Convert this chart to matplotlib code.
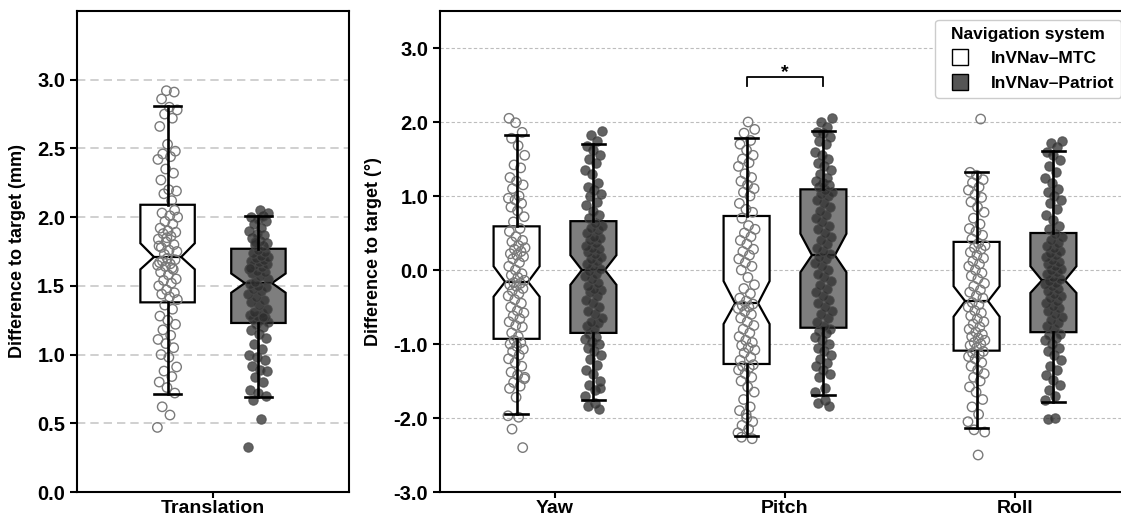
import numpy as np
import matplotlib
matplotlib.use("Agg")
import matplotlib.pyplot as plt
from matplotlib.lines import Line2D

plt.rcParams['font.family'] = ['Liberation Sans', 'DejaVu Sans']
plt.rcParams['font.weight'] = 'bold'
plt.rcParams['axes.unicode_minus'] = False

systems = ["InVNav\u2013MTC", "InVNav\u2013Patriot"]
rot_axes = ["Yaw", "Pitch", "Roll"]

# Translation error (mm), one value per trial
trans_mtc = [0.47, 0.56, 0.62,
             0.72, 0.76, 0.80, 0.84, 0.88, 0.91, 0.98, 1.00, 1.05, 1.08, 1.11, 1.14, 1.18, 1.22, 1.25, 1.28, 1.33, 1.36,
             1.40, 1.42, 1.44, 1.45, 1.47, 1.50, 1.52, 1.54, 1.55, 1.58, 1.60, 1.62, 1.64, 1.65, 1.66, 1.68, 1.69, 1.70, 1.67, 1.63,
             1.73, 1.75, 1.76, 1.78, 1.80, 1.82, 1.84, 1.86, 1.88, 1.89, 1.90, 1.92, 1.95, 1.97, 2.00, 2.01, 2.03, 2.05, 1.85, 1.79,
             2.12, 2.17, 2.19, 2.20, 2.27, 2.32, 2.35, 2.42, 2.44, 2.46, 2.48, 2.53, 2.66, 2.72, 2.75, 2.78, 2.80,
             2.86, 2.91, 2.92]
trans_patriot = [0.33, 0.53, 0.67,
                 0.70, 0.72, 0.74, 0.80, 0.84, 0.88, 0.89, 0.92, 0.96, 0.98, 1.00, 1.04, 1.08, 1.12, 1.15, 1.18, 1.20, 1.22,
                 1.24, 1.25, 1.26, 1.27, 1.28, 1.29, 1.30, 1.31, 1.33, 1.36, 1.38, 1.40, 1.42, 1.44, 1.46, 1.48, 1.49, 1.50, 1.51, 1.27,
                 1.53, 1.55, 1.57, 1.59, 1.60, 1.61, 1.62, 1.64, 1.65, 1.66, 1.67, 1.68, 1.69, 1.70, 1.71, 1.72, 1.74, 1.75, 1.76, 1.63,
                 1.79, 1.80, 1.81, 1.83, 1.85, 1.87, 1.88, 1.90, 1.92, 1.95, 1.97, 1.99, 2.00, 2.01, 1.82,
                 2.03, 2.05]

# Rotation error (deg)
yaw_mtc = [-1.97, -1.99, -2.15, -2.40,
           -1.72, -1.60, -1.57, -1.52, -1.47, -1.42, -1.38, -1.30, -1.25, -1.20, -1.15, -1.10, -1.07, -1.03, -1.00, -0.98, -0.95, -1.45,
           -0.90, -0.85, -0.77, -0.75, -0.70, -0.66, -0.62, -0.58, -0.55, -0.50, -0.45, -0.40, -0.35, -0.32, -0.28, -0.25, -0.22, -0.20, -0.18, -0.17,
           -0.14, -0.10, -0.07, -0.05, 0.00, 0.05, 0.10, 0.15, 0.18, 0.20, 0.22, 0.25, 0.28, 0.30, 0.33, 0.38, 0.40, 0.45, 0.52, 0.56,
           0.65, 0.72, 0.80, 0.85, 0.90, 0.95, 0.97, 1.00, 1.10, 1.15, 1.20, 1.25, 1.38, 1.42, 1.55, 1.68, 1.78,
           1.86, 1.99, 2.05]
yaw_patriot = [-1.70, -1.62, -1.55, -1.50, -1.40, -1.35, -1.28, -1.20, -1.15, -1.10, -1.05, -1.00, -0.97, -0.93, -0.90, -0.87, -1.60,
               -0.80, -0.76, -0.72, -0.70, -0.65, -0.60, -0.55, -0.50, -0.45, -0.40, -0.35, -0.30, -0.27, -0.25, -0.22, -0.18, -0.12, -0.08, -0.05, -0.02,
               0.02, 0.05, 0.08, 0.12, 0.15, 0.18, 0.22, 0.25, 0.28, 0.30, 0.33, 0.36, 0.40, 0.43, 0.45, 0.50, 0.54, 0.57, 0.60, 0.64,
               0.70, 0.75, 0.80, 0.88, 0.92, 1.00, 1.03, 1.08, 1.12, 1.18, 1.30, 1.35, 1.45, 1.50, 1.55, 1.62, 1.68,
               1.74, 1.83, 1.88, -1.80, -1.84, -1.88]
pitch_mtc = [-2.20, -2.15, -2.10, -2.05, -1.95, -1.90, -1.85, -1.75, -1.65, -1.58, -1.50, -1.45, -1.40, -1.35, -1.32, -1.30, -1.28, -2.00,
             -1.22, -1.18, -1.12, -1.08, -1.05, -1.02, -0.98, -0.95, -0.90, -0.85, -0.80, -0.75, -0.70, -0.65, -0.60, -0.56, -0.52, -0.50, -0.48, -0.46,
             -0.42, -0.38, -0.32, -0.25, -0.20, -0.10, 0.00, 0.05, 0.10, 0.15, 0.20, 0.25, 0.28, 0.35, 0.40, 0.45, 0.50, 0.55, 0.60, 0.70,
             0.78, 0.82, 0.90, 1.00, 1.05, 1.10, 1.15, 1.20, 1.25, 1.30, 1.40, 1.45, 1.50, 1.55, 1.62, 1.70, 1.75,
             1.85, 1.90, 2.00, -2.26, -2.28]
pitch_patriot = [-1.65, -1.60, -1.45, -1.40, -1.35, -1.30, -1.25, -1.20, -1.15, -1.10, -1.05, -1.00, -0.95, -0.90, -0.85, -0.82, -0.80,
                 -0.75, -0.70, -0.65, -0.60, -0.55, -0.50, -0.45, -0.40, -0.35, -0.30, -0.25, -0.20, -0.15, -0.10, -0.05, 0.00, 0.05, 0.10, 0.15, 0.18,
                 0.22, 0.26, 0.30, 0.35, 0.40, 0.45, 0.50, 0.55, 0.60, 0.65, 0.70, 0.75, 0.80, 0.85, 0.90, 0.95, 1.00, 1.03, 1.06, 1.08,
                 1.12, 1.15, 1.18, 1.20, 1.25, 1.30, 1.35, 1.40, 1.45, 1.50, 1.55, 1.60, 1.70, 1.75, 1.80, 1.85, 1.87,
                 1.93, 2.00, 2.05, -1.75, -1.80, -1.84]
roll_mtc = [-2.05, -1.95, -1.85, -1.75, -1.65, -1.58, -1.50, -1.45, -1.40, -1.35, -1.30, -1.25, -1.20, -1.17, -1.14, -1.12, -1.10,
            -1.05, -1.02, -1.00, -0.98, -0.95, -0.92, -0.90, -0.87, -0.84, -0.80, -0.77, -0.73, -0.70, -0.66, -0.62, -0.58, -0.55, -0.50, -0.47, -0.44,
            -0.38, -0.35, -0.30, -0.27, -0.22, -0.18, -0.12, -0.08, -0.04, 0.00, 0.05, 0.08, 0.12, 0.16, 0.20, 0.24, 0.28, 0.30, 0.33, 0.36,
            0.42, 0.47, 0.52, 0.56, 0.62, 0.70, 0.78, 0.85, 0.92, 0.98, 1.02, 1.08, 1.12, 1.18, 1.22, 1.28, 1.32,
            2.04, -2.16, -2.19, -2.50]
roll_patriot = [-1.75, -1.70, -1.62, -1.55, -1.48, -1.42, -1.35, -1.30, -1.22, -1.15, -1.10, -1.05, -1.00, -0.95, -0.92, -0.88, -0.86,
                -0.80, -0.76, -0.72, -0.68, -0.64, -0.60, -0.56, -0.52, -0.48, -0.45, -0.42, -0.38, -0.35, -0.32, -0.28, -0.25, -0.22, -0.19, -0.17, -0.15,
                -0.12, -0.09, -0.06, -0.03, 0.00, 0.02, 0.05, 0.08, 0.11, 0.14, 0.17, 0.20, 0.23, 0.26, 0.30, 0.33, 0.37, 0.41, 0.45, 0.48,
                0.55, 0.60, 0.68, 0.75, 0.82, 0.90, 0.95, 1.00, 1.05, 1.10, 1.18, 1.25, 1.32, 1.40, 1.48, 1.55, 1.60,
                1.66, 1.72, 1.75, -2.00, -2.01]

# box summaries, order: Translation, Yaw, Pitch, Roll
q1_mtc = [1.38, -0.93, -1.27, -1.09]
med_mtc = [1.71, -0.16, -0.45, -0.42]
q3_mtc = [2.09, 0.59, 0.73, 0.38]
wlo_mtc = [0.71, -1.95, -2.24, -2.13]
whi_mtc = [2.81, 1.83, 1.78, 1.33]
cilo_mtc = [1.62, -0.36, -0.73, -0.63]
cihi_mtc = [1.81, 0.05, -0.15, -0.22]

q1_pat = [1.23, -0.85, -0.78, -0.84]
med_pat = [1.52, 0.00, 0.20, -0.14]
q3_pat = [1.77, 0.66, 1.09, 0.50]
wlo_pat = [0.69, -1.76, -1.69, -1.78]
whi_pat = [2.01, 1.70, 1.88, 1.61]
cilo_pat = [1.45, -0.20, -0.03, -0.31]
cihi_pat = [1.59, 0.20, 0.49, 0.05]

BOX_FILL = {"mtc": "white", "pat": "#7e7e7e"}
OFFSET = 0.167
WIDTH = 0.2


def stats(i, q1, med, q3, wlo, whi, cilo, cihi):
    return dict(q1=q1[i], med=med[i], q3=q3[i], whislo=wlo[i], whishi=whi[i],
                cilo=cilo[i], cihi=cihi[i], fliers=[])


def draw_group(ax, pos, st, values, kind):
    b = ax.bxp([st], positions=[pos], widths=WIDTH, shownotches=True, showfliers=False,
               patch_artist=True, manage_ticks=False,
               boxprops=dict(facecolor=BOX_FILL[kind], edgecolor="black", linewidth=1.6),
               whiskerprops=dict(color="black", linewidth=1.9),
               capprops=dict(color="black", linewidth=1.9),
               medianprops=dict(color="black", linewidth=1.6))
    for p in b["boxes"]:
        p.set_zorder(2)
    for l in b["medians"]:
        l.set_zorder(2.5)
    for l in b["whiskers"] + b["caps"]:
        l.set_zorder(4)

    v = np.asarray(values)
    jit = ((np.arange(len(v)) * 0.618034) % 1 - 0.5) * 0.075
    if kind == "mtc":
        ax.scatter(pos + jit, v, s=46, facecolors="none", edgecolors="#7a7a7a",
                   linewidths=1.0, zorder=3)
    else:
        ax.scatter(pos + jit, v, s=46, color="#2e2e2e", alpha=0.75,
                   edgecolors="#4a4a4a", linewidths=0.8, zorder=3)


fig = plt.figure(figsize=(11.21, 5.19), dpi=100)
ax1 = fig.add_axes([77 / 1121, 27 / 519, 272 / 1121, 481 / 519])
ax2 = fig.add_axes([440 / 1121, 27 / 519, 690 / 1121, 481 / 519])

# left: translation
draw_group(ax1, -OFFSET, stats(0, q1_mtc, med_mtc, q3_mtc, wlo_mtc, whi_mtc, cilo_mtc, cihi_mtc), trans_mtc, "mtc")
draw_group(ax1, OFFSET, stats(0, q1_pat, med_pat, q3_pat, wlo_pat, whi_pat, cilo_pat, cihi_pat), trans_patriot, "pat")

# right: rotations
rot_mtc = [yaw_mtc, pitch_mtc, roll_mtc]
rot_pat = [yaw_patriot, pitch_patriot, roll_patriot]
for k in range(3):
    draw_group(ax2, k - OFFSET, stats(k + 1, q1_mtc, med_mtc, q3_mtc, wlo_mtc, whi_mtc, cilo_mtc, cihi_mtc), rot_mtc[k], "mtc")
    draw_group(ax2, k + OFFSET, stats(k + 1, q1_pat, med_pat, q3_pat, wlo_pat, whi_pat, cilo_pat, cihi_pat), rot_pat[k], "pat")

ax1.set_xlim(-0.5, 0.5)
ax1.set_ylim(0, 3.5)
yt1 = np.arange(0, 3.01, 0.5)
ax1.set_yticks(yt1)
ax1.set_yticklabels([f"{t:.1f}" for t in yt1])
ax1.set_xticks([0])
ax1.set_xticklabels(["Translation"])
ax1.set_ylabel("Difference to target (mm)", fontsize=13, fontweight="bold", labelpad=8)
ax1.yaxis.grid(True, linestyle=(0, (5, 3)), color="#c8c8c8", linewidth=1.2)

ax2.set_xlim(-0.5, 2.5)
ax2.set_ylim(-3, 3.5)
yt2 = np.arange(-3, 3.01, 1.0)
ax2.set_yticks(yt2)
ax2.set_yticklabels([f"{t:.1f}" for t in yt2])
ax2.set_xticks(range(3))
ax2.set_xticklabels(rot_axes)
ax2.set_ylabel("Difference to target (\u00b0)", fontsize=13, fontweight="bold", labelpad=8)
ax2.yaxis.grid(True, linestyle=(0, (3, 2)), color="#bdbdbd", linewidth=0.8)

for ax in (ax1, ax2):
    ax.set_axisbelow(True)
    for s in ax.spines.values():
        s.set_linewidth(1.5)
    ax.tick_params(axis="both", direction="out", length=5, width=1.5)
    ax.tick_params(axis="y", labelsize=14.5)
    ax.tick_params(axis="x", labelsize=14, length=4, pad=1.5)

# significance bracket for pitch
by = 2.61
ax2.plot([1 - OFFSET, 1 - OFFSET, 1 + OFFSET, 1 + OFFSET], [by - 0.12, by, by, by - 0.12],
         color="black", linewidth=1.3)
ax2.text(1, by - 0.06, "*", ha="center", va="bottom", fontsize=14, fontweight="bold")

handles = [Line2D([], [], marker="s", ls="none", markersize=11, mfc="white", mec="black", mew=1.0),
           Line2D([], [], marker="s", ls="none", markersize=11, mfc="#555555", mec="black", mew=1.0)]
leg = ax2.legend(handles, systems, title="Navigation system", loc="upper right",
                 prop=dict(weight="bold", size=12.5), title_fontproperties=dict(weight="bold", size=12.5),
                 frameon=True, framealpha=1, edgecolor="#cccccc", labelspacing=0.55)

fig.savefig("out.png", dpi=100)
